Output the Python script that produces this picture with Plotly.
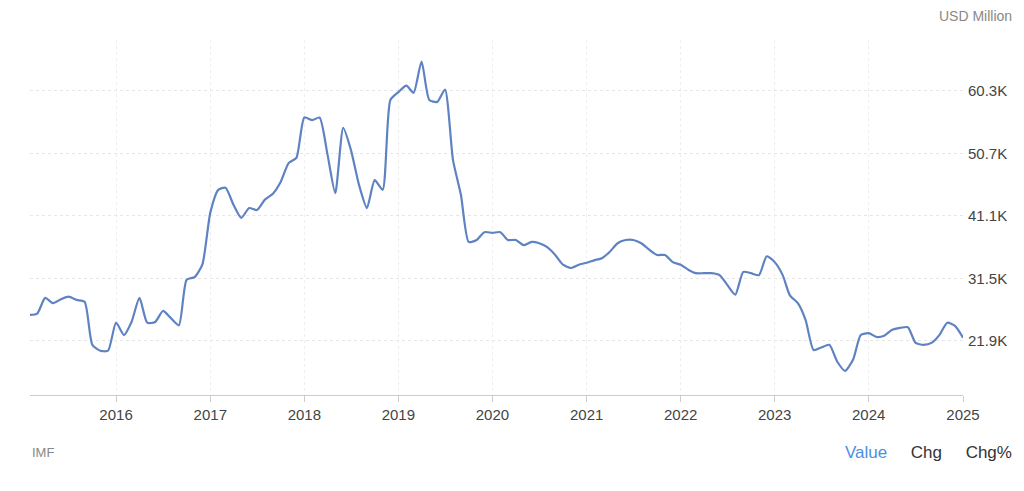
import pandas as pd
import plotly.graph_objects as go

values = [25.9,26.1,28.5,27.7,28.3,28.7,28.2,27.9,21.3,20.4,20.4,24.7,22.8,24.8,28.5,24.7,24.8,26.5,25.4,24.3,
31.3,31.7,33.6,41.6,45.1,45.4,42.8,40.8,42.3,42.0,43.6,44.5,46.3,49.2,50.0,56.2,55.8,56.2,50.5,44.6,
54.6,51.2,45.9,42.3,46.6,45.1,58.9,60.1,61.1,60.0,64.8,58.9,58.6,60.5,49.7,44.3,37.1,37.4,38.6,38.5,
38.6,37.4,37.4,36.6,37.1,36.9,36.3,35.1,33.6,33.1,33.6,33.9,34.3,34.6,35.6,36.9,37.4,37.4,36.9,35.9,
35.1,35.1,34.0,33.6,32.8,32.3,32.3,32.3,32.0,30.5,29.0,32.5,32.3,32.0,34.9,34.0,32.0,28.9,27.7,25.1,
20.5,20.9,21.3,18.7,17.3,19.0,22.8,23.1,22.5,22.7,23.6,23.9,24.0,21.6,21.3,21.6,22.8,24.7,24.2,22.4]
dates = pd.date_range("2015-02-01", periods=len(values), freq="MS")
tick_vals = [21.9, 31.5, 41.1, 50.7, 60.3]
tick_text = ["21.9K", "31.5K", "41.1K", "50.7K", "60.3K"]
year_ticks = [f"{y}-01-01" for y in range(2016, 2026)]
year_labels = [str(y) for y in range(2016, 2026)]

fig = go.Figure(go.Scatter(x=dates, y=values, mode="lines",
    line=dict(color="#5f82c2", width=2.2, shape="spline", smoothing=0.6), hoverinfo="skip"))
fig.update_layout(
    width=1008, height=475, paper_bgcolor="white", plot_bgcolor="white",
    margin=dict(l=22, r=53, t=32, b=88, autoexpand=False), showlegend=False,
    font=dict(family="Helvetica, Liberation Sans, Arial", color="#444", size=15),
    xaxis=dict(range=["2015-02-01", "2025-01-01"], tickvals=year_ticks, ticktext=year_labels,
               showgrid=True, gridcolor="#eeeeee", griddash="dot", showline=True, linecolor="#cccccc",
               ticks="outside", ticklen=6, tickcolor="#cccccc", zeroline=False),
    yaxis=dict(side="right", range=[13.6, 68.1], tickvals=tick_vals, ticktext=tick_text,
               showgrid=True, gridcolor="#e6e6e6", griddash="dot", zeroline=False, ticklabelstandoff=4),
)
fig.add_annotation(text="USD Million", xref="paper", yref="paper", x=1.0547, y=1.068, xanchor="right",
                   yanchor="middle", showarrow=False, font=dict(size=14, color="#888"))
fig.add_annotation(text="IMF", xref="paper", yref="paper", x=0.0, y=-0.163, xanchor="left",
                   yanchor="middle", showarrow=False, font=dict(size=13, color="#888"))
fig.add_annotation(text="<span style='color:#4a90e2'>Value</span>     Chg     Chg%", xref="paper", yref="paper",
                   x=1.0547, y=-0.163, xanchor="right", yanchor="middle", showarrow=False,
                   font=dict(size=17, color="#333"))
fig.write_html("out.html")
